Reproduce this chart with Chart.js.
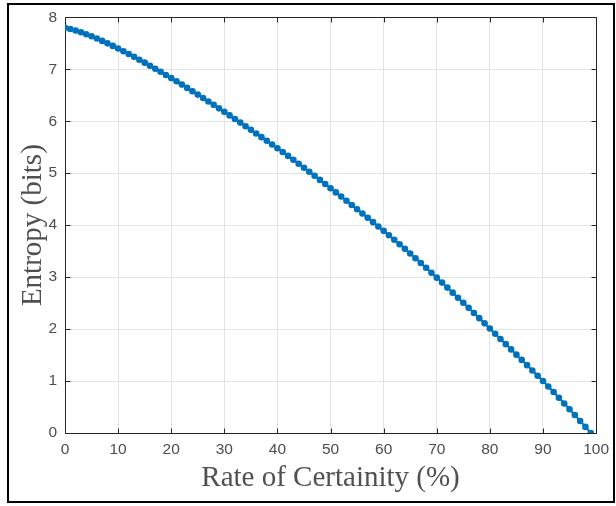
<!DOCTYPE html>
<html><head><meta charset="utf-8">
<script src="https://cdn.jsdelivr.net/npm/chart.js@4.4.1/dist/chart.umd.min.js"></script>
<style>html,body{margin:0;padding:0;background:#fff;}canvas{display:block;}</style>
</head><body><canvas id="c" width="616" height="506"></canvas>
<script>
const rates = [0,1,2,3,4,5,6,7,8,9,10,11,12,13,14,15,16,17,18,19,20,21,22,23,24,25,26,27,28,29,30,31,32,33,34,35,36,37,38,39,40,41,42,43,44,45,46,47,48,49,50,51,52,53,54,55,56,57,58,59,60,61,62,63,64,65,66,67,68,69,70,71,72,73,74,75,76,77,78,79,80,81,82,83,84,85,86,87,88,89,90,91,92,93,94,95,96,97,98,99];
const entropy = [7.800,7.775,7.745,7.711,7.674,7.634,7.591,7.546,7.499,7.450,
7.400,7.348,7.295,7.240,7.184,7.127,7.069,7.010,6.951,6.891,
6.830,6.768,6.705,6.641,6.577,6.512,6.447,6.381,6.315,6.248,
6.180,6.112,6.043,5.974,5.904,5.834,5.764,5.694,5.623,5.552,
5.480,5.407,5.333,5.258,5.182,5.105,5.028,4.950,4.871,4.791,
4.710,4.630,4.550,4.469,4.388,4.306,4.224,4.141,4.058,3.974,
3.890,3.805,3.719,3.632,3.544,3.455,3.364,3.272,3.179,3.085,
2.990,2.894,2.798,2.701,2.604,2.506,2.408,2.309,2.210,2.110,
2.010,1.910,1.810,1.710,1.609,1.508,1.407,1.306,1.204,1.102,
1.000,0.895,0.788,0.679,0.569,0.458,0.346,0.232,0.117,0.000];
const xTicks = [0,10,20,30,40,50,60,70,80,90,100];
const yTicks = [0,1,2,3,4,5,6,7,8];
const xTitle = 'Rate of Certainity (%)';
const yTitle = 'Entropy (bits)';

const points = rates.map((r, i) => ({x: r, y: entropy[i]}));

const boxPlugin = {
  id: 'box',
  beforeDatasetsDraw(chart) {
    const {ctx, chartArea: a, scales: {x, y}} = chart;
    ctx.save();
    ctx.strokeStyle = '#262626';
    ctx.lineWidth = 1;
    ctx.beginPath();
    const L = Math.round(a.left) + 0.5, R = Math.round(a.right) + 0.5;
    const T = Math.round(a.top) + 0.5, B = Math.round(a.bottom) + 0.5;
    ctx.rect(L, T, R - L, B - T);
    const tl = 5;
    xTicks.forEach(v => {
      const px = Math.round(x.getPixelForValue(v)) + 0.5;
      ctx.moveTo(px, B); ctx.lineTo(px, B - tl);
      ctx.moveTo(px, T); ctx.lineTo(px, T + tl);
    });
    yTicks.forEach(v => {
      const py = Math.round(y.getPixelForValue(v)) + 0.5;
      ctx.moveTo(L, py); ctx.lineTo(L + tl, py);
      ctx.moveTo(R, py); ctx.lineTo(R - tl, py);
    });
    ctx.stroke();
    ctx.restore();
  },
  afterDraw(chart) {
    const ctx = chart.ctx;
    ctx.save();
    ctx.strokeStyle = '#000';
    ctx.lineWidth = 2;
    ctx.strokeRect(8, 4, 606, 498);
    ctx.restore();
  }
};

new Chart(document.getElementById('c'), {
  type: 'scatter',
  data: {
    datasets: [{
      data: points,
      showLine: true,
      borderColor: '#0072BD',
      backgroundColor: '#0072BD',
      borderWidth: 2,
      pointRadius: 3.3,
      pointBorderWidth: 0,
      pointBackgroundColor: '#0072BD',
      tension: 0
    }]
  },
  options: {
    responsive: false,
    animation: false,
    devicePixelRatio: 1,
    layout: {padding: {left: 0, top: 17, right: 17, bottom: 0}},
    plugins: {legend: {display: false}, tooltip: {enabled: false}},
    scales: {
      x: {
        type: 'linear', min: 0, max: 100,
        afterBuildTicks: s => { s.ticks = xTicks.map(v => ({value: v})); },
        afterFit: s => { s.height = 73; },
        grid: {color: '#e3e3e3', lineWidth: 1, drawTicks: false},
        border: {display: false},
        ticks: {padding: 7, color: '#4d4d4d', font: {family: 'Liberation Sans', size: 15.5}, maxRotation: 0, autoSkip: false},
        title: {display: true, text: xTitle, color: '#505050', font: {family: 'Liberation Serif', size: 29}, padding: {top: 0, bottom: 10}}
      },
      y: {
        type: 'linear', min: 0, max: 8,
        afterBuildTicks: s => { s.ticks = yTicks.map(v => ({value: v})); },
        afterFit: s => { s.width = 65; },
        grid: {color: '#e3e3e3', lineWidth: 1, drawTicks: false},
        border: {display: false},
        ticks: {padding: 8, color: '#4d4d4d', font: {family: 'Liberation Sans', size: 15.5}, autoSkip: false},
        title: {display: true, text: yTitle, color: '#505050', font: {family: 'Liberation Serif', size: 29}, padding: {top: 16, bottom: 0}}
      }
    }
  },
  plugins: [boxPlugin]
});
</script></body></html>
